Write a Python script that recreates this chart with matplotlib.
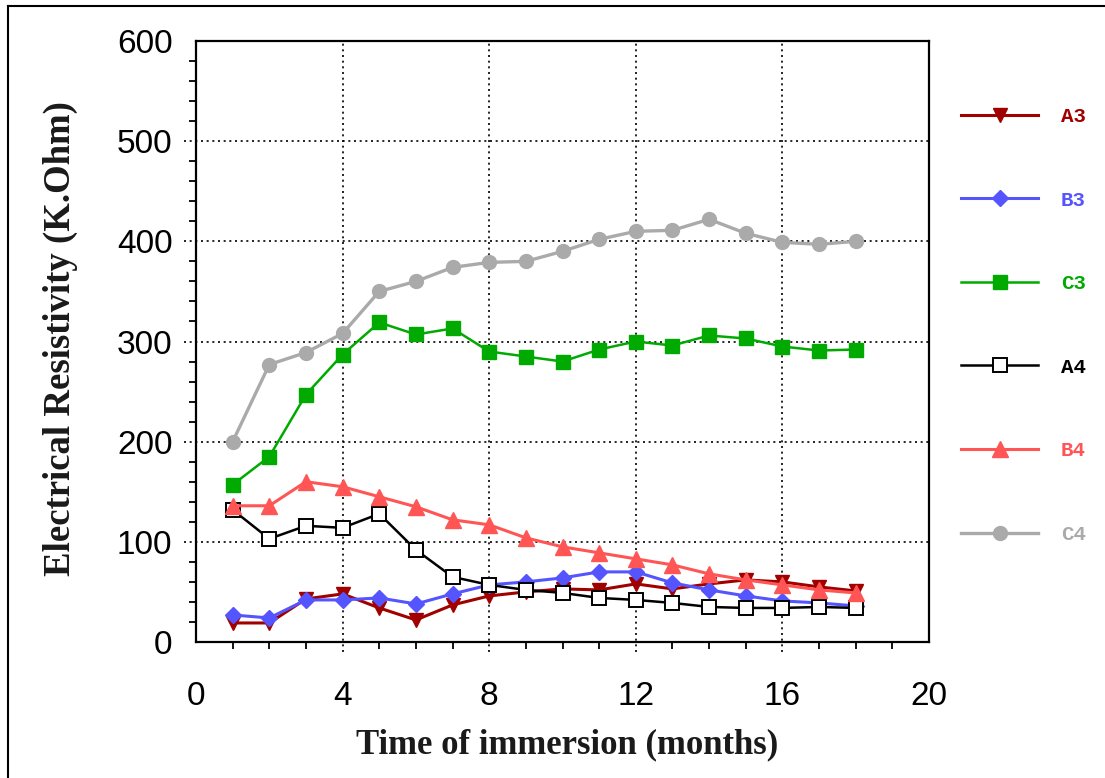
import matplotlib
matplotlib.use("Agg")
import matplotlib.pyplot as plt
from matplotlib.lines import Line2D
from matplotlib.ticker import MultipleLocator, FixedLocator

# Immersion time (months)
months = list(range(1, 19))

# Electrical resistivity (K.Ohm) per mix
a3 = [19, 19, 43, 48, 34, 22, 37, 46, 50, 53, 52, 58, 53, 58, 62, 60, 55, 51]
b3 = [27, 24, 42, 42, 44, 38, 48, 57, 60, 64, 70, 70, 59, 52, 46, 41, 39, 36]
c3 = [157, 185, 247, 287, 319, 307, 313, 290, 285, 280, 292, 300, 296, 306, 303, 295, 291, 292]
a4 = [132, 103, 116, 114, 128, 92, 65, 57, 52, 49, 44, 42, 39, 35, 34, 34, 35, 34]
b4 = [136, 136, 160, 155, 145, 135, 122, 117, 104, 95, 89, 83, 77, 68, 62, 57, 52, 49]
c4 = [200, 277, 289, 308, 350, 360, 374, 379, 380, 390, 402, 410, 411, 422, 408, 399, 397, 400]

series_names = ["A3", "B3", "C3", "A4", "B4", "C4"]
series_values = [a3, b3, c3, a4, b4, c4]

x_major = [0, 4, 8, 12, 16, 20]
y_major = [0, 100, 200, 300, 400, 500, 600]

styles = {
    "A3": dict(color="#a00000", marker="v", markersize=10, lw=2.2, mfc="#a00000", mec="#a00000"),
    "B3": dict(color="#5555ff", marker="D", markersize=8.5, lw=2.2, mfc="#5555ff", mec="#5555ff"),
    "C3": dict(color="#00aa00", marker="s", markersize=10.5, lw=1.8, mfc="#00aa00", mec="#00aa00"),
    "A4": dict(color="#000000", marker="s", markersize=10.5, lw=1.8, mfc="white", mec="#000000", mew=1.4),
    "B4": dict(color="#ff5555", marker="^", markersize=11, lw=2.2, mfc="#ff5555", mec="#ff5555"),
    "C4": dict(color="#aaaaaa", marker="o", markersize=10, lw=2.4, mfc="#aaaaaa", mec="#aaaaaa"),
}

W, H = 1105, 778
fig = plt.figure(figsize=(W / 100, H / 100), dpi=100)
fig.patch.set_facecolor("white")

# outer frame lines (left and top)
fig.add_artist(Line2D([8 / W, 8 / W], [0, 1 - 6 / H], transform=fig.transFigure, color="black", lw=1.5))
fig.add_artist(Line2D([8 / W, 1], [1 - 6 / H, 1 - 6 / H], transform=fig.transFigure, color="black", lw=1.5))

ax = fig.add_axes([196 / W, 1 - 642 / H, (929 - 196) / W, (642 - 41) / H])

handles = []
for name, vals in zip(series_names, series_values):
    st = styles[name]
    h, = ax.plot(months, vals, color=st["color"], lw=st["lw"], marker=st["marker"],
                 markersize=st["markersize"], markerfacecolor=st["mfc"],
                 markeredgecolor=st["mec"], markeredgewidth=st.get("mew", 1.0),
                 label=name, zorder=3)
    handles.append(h)

ax.set_xlim(x_major[0], x_major[-1])
ax.set_ylim(y_major[0], y_major[-1])
ax.xaxis.set_major_locator(FixedLocator(x_major))
ax.yaxis.set_major_locator(FixedLocator(y_major))
ax.xaxis.set_minor_locator(MultipleLocator(1))
ax.yaxis.set_minor_locator(MultipleLocator(20))

# dotted grid that reaches slightly past the spines
dot = (0, (1.2, 2.2))
for v in x_major[1:-1]:
    ax.axvline(v, ymin=-0.016, ymax=1, color="black", lw=1.2, ls=dot, clip_on=False, zorder=1)
for v in y_major[1:-1]:
    ax.axhline(v, xmin=-0.016, xmax=1, color="black", lw=1.2, ls=dot, clip_on=False, zorder=1)

for s in ax.spines.values():
    s.set_linewidth(1.6)

tick_font = dict(family="Liberation Sans", size=24)
ax.set_xticklabels([str(v) for v in x_major], fontdict=tick_font)
ax.set_yticklabels([str(v) for v in y_major], fontdict=tick_font)
ax.tick_params(axis="both", which="major", length=0)
ax.tick_params(axis="x", which="major", pad=28)
ax.tick_params(axis="y", which="major", pad=17)
ax.tick_params(axis="both", which="minor", length=5, width=1.3, direction="out", color="black")

label_font = dict(family="Liberation Serif", weight="bold", color="#1a1a1a")
fig.text(567 / W, 1 - 745 / H, "Time of immersion (months)", ha="center", va="center",
         size=25, **label_font)
fig.text(60 / W, 1 - 339 / H, "Electrical Resistivity (K.Ohm)", ha="center", va="center",
         rotation=90, size=26.5, **label_font)

leg = ax.legend(handles, series_names, loc="upper left",
                bbox_to_anchor=(961 / W, 1 - 107 / H), bbox_transform=fig.transFigure,
                frameon=False, borderpad=0, borderaxespad=0,
                labelspacing=3.1, handlelength=3.7, handletextpad=1.1,
                prop=dict(family="Liberation Mono", weight="bold", size=15))
for txt, name in zip(leg.get_texts(), series_names):
    txt.set_color(styles[name]["color"])

fig.savefig("out.png", dpi=100, facecolor="white")
